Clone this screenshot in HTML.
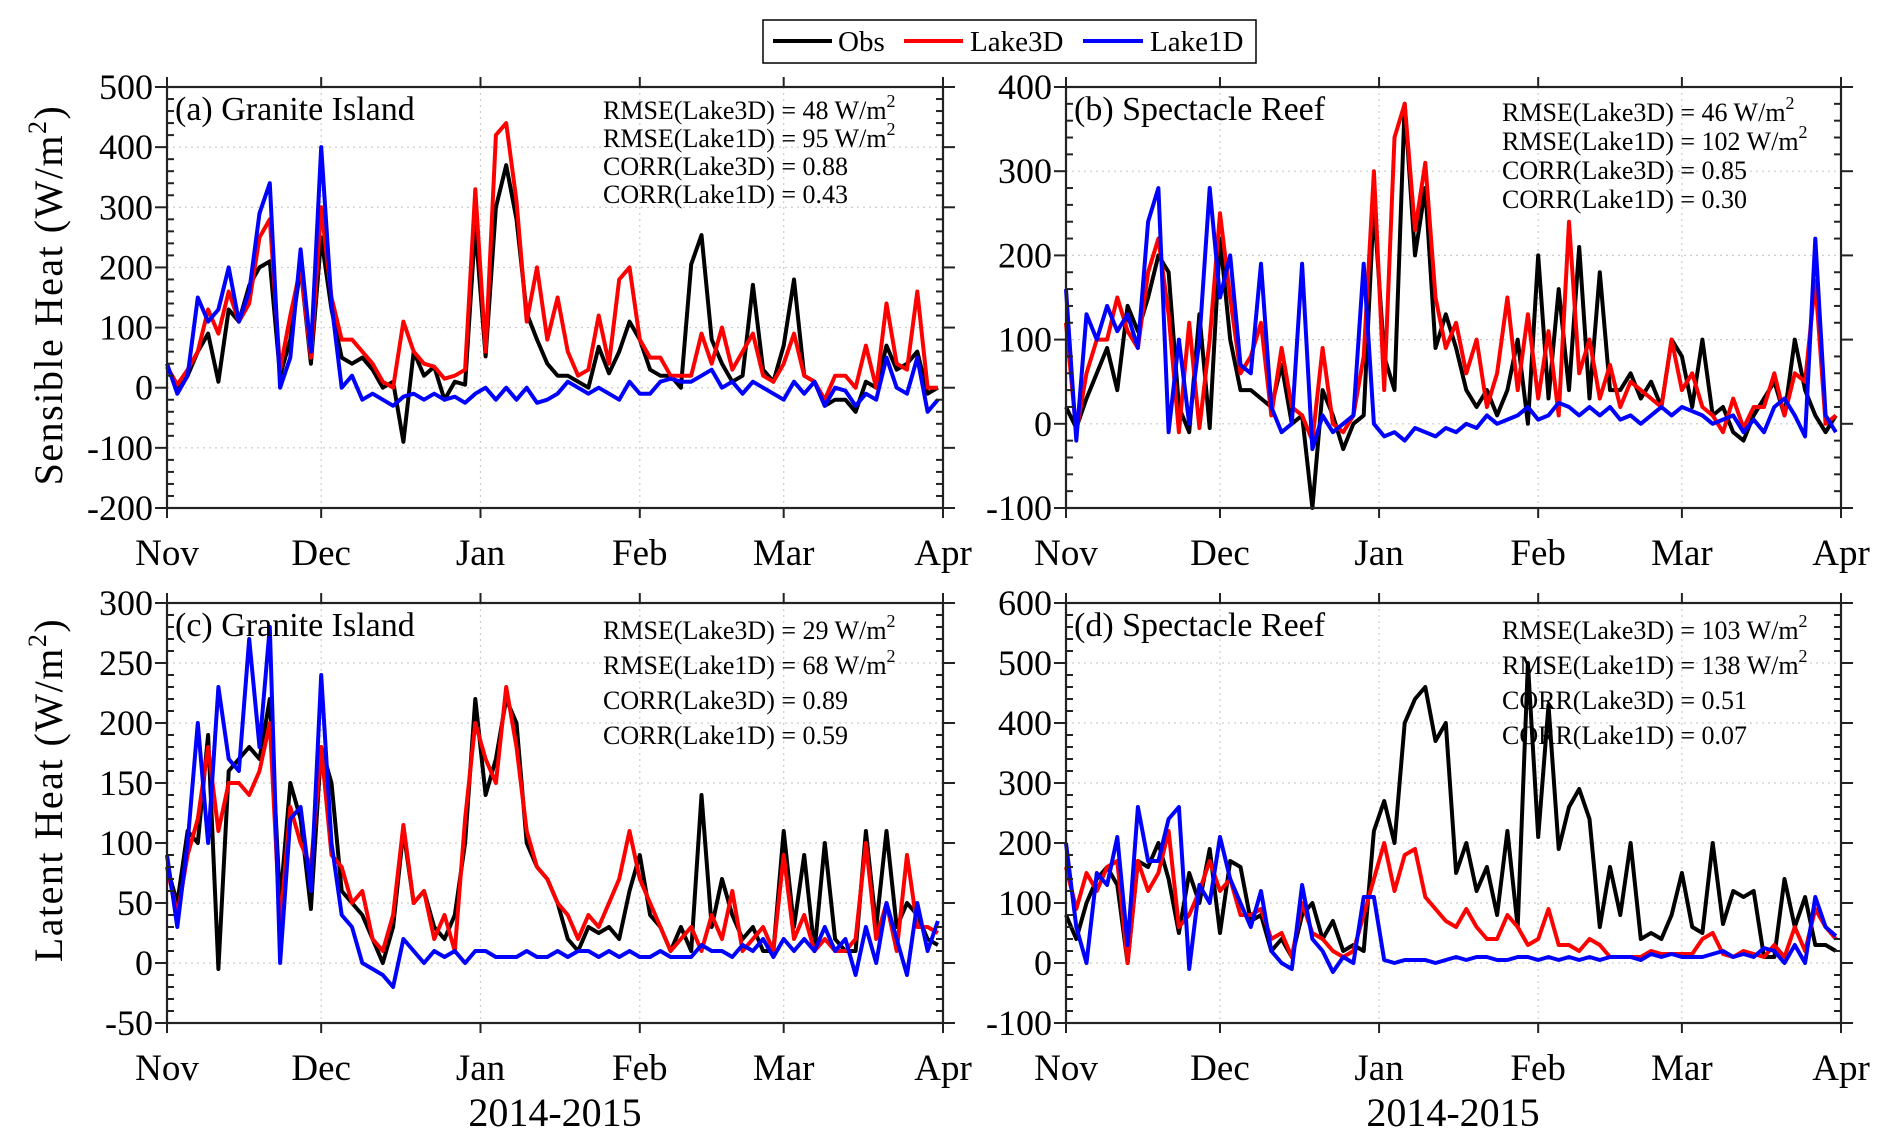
<!DOCTYPE html>
<html><head><meta charset="utf-8"><style>
html,body{margin:0;padding:0;background:#fff}
svg{display:block;font-family:"Liberation Serif",serif}
</style></head><body>
<svg id="fig" width="1892" height="1145" viewBox="0 0 1892 1145">
<g>
<rect x="763" y="20" width="493" height="43" fill="#fff" stroke="#000" stroke-width="1.5"/>
<g><line x1="773" y1="41" x2="832" y2="41" stroke="#000" stroke-width="4"/><text x="838" y="51" font-size="29">Obs</text></g>
<g><line x1="904" y1="41" x2="963" y2="41" stroke="#f00" stroke-width="4"/><text x="970" y="51" font-size="29">Lake3D</text></g>
<g><line x1="1083" y1="41" x2="1143" y2="41" stroke="#00f" stroke-width="4"/><text x="1150" y="51" font-size="29">Lake1D</text></g>
</g>
<text transform="translate(62,295) rotate(-90)" text-anchor="middle" font-size="40" letter-spacing="1.5">Sensible Heat (W/m<tspan font-size="26" dy="-16">2</tspan><tspan dy="16">)</tspan></text>
<text transform="translate(62,790) rotate(-90)" text-anchor="middle" font-size="40" letter-spacing="1.5">Latent Heat (W/m<tspan font-size="26" dy="-16">2</tspan><tspan dy="16">)</tspan></text>
<text x="555" y="1126" text-anchor="middle" font-size="40">2014-2015</text>
<text x="1453" y="1126" text-anchor="middle" font-size="40">2014-2015</text>
</svg>
<script>
const months = ["Nov","Dec","Jan","Feb","Mar","Apr"];
const monthDays = [0,30,61,92,120,151];
const dayStep = 2;
const aObs = [35,0,20,60,90,10,130,110,170,200,210,20,80,200,40,250,130,50,40,50,30,0,10,-90,60,20,35,-20,10,5,268,52,300,370,280,124,80,40,20,20,10,0,68,24,60,110,80,30,20,20,0,205,254,80,40,10,20,171,30,10,70,180,20,10,-30,-20,-20,-40,10,0,70,30,40,60,-10,0];
const aL3 = [35,5,30,60,130,90,160,110,140,250,280,30,120,200,50,300,150,80,80,60,40,10,0,110,60,40,35,15,20,30,330,60,420,440,310,110,200,80,150,60,20,30,120,40,180,200,80,50,50,20,20,20,90,40,100,30,60,90,20,10,40,90,20,10,-20,20,20,0,70,0,140,40,30,160,0,0];
const aL1 = [40,-10,20,150,110,130,200,110,160,290,340,0,50,230,60,400,140,0,20,-20,-10,-20,-30,-15,-10,-20,-10,-20,-15,-25,-10,0,-20,0,-20,0,-25,-20,-10,10,0,-10,0,-10,-20,10,-10,-10,10,15,10,10,20,30,0,10,-10,10,0,-10,-20,10,-10,10,-30,0,-5,-30,-10,-20,50,0,-10,50,-40,-20];
const bObs = [20,-5,30,60,90,40,140,110,150,200,180,20,-10,130,-5,220,100,40,40,30,20,70,0,10,-100,40,10,-30,0,10,260,80,40,380,200,280,90,130,90,40,20,40,10,40,100,0,200,30,160,40,210,30,180,40,40,60,30,50,20,100,80,20,100,10,20,-10,-20,10,30,50,10,100,40,10,-10,10];
const bL3 = [120,-10,60,100,100,150,110,90,180,220,130,-10,120,-5,100,250,150,60,80,120,10,90,20,10,-20,90,0,-10,10,80,300,40,340,380,230,310,150,90,120,60,100,20,60,150,40,130,30,110,10,240,60,100,30,70,20,50,40,30,20,100,40,60,20,10,-10,30,-5,20,20,60,10,60,50,170,0,10];
const bL1 = [160,-20,130,100,140,110,130,90,240,280,-10,100,0,100,280,150,200,70,60,190,20,-10,0,190,-30,10,-10,0,10,190,0,-15,-10,-20,-5,-10,-15,-5,-10,0,-5,10,0,5,10,20,5,10,25,20,10,20,10,20,5,10,0,10,20,10,20,15,10,0,5,10,-10,5,-10,20,30,10,-15,220,10,-10];
const cObs = [80,50,110,100,190,-5,160,170,180,170,220,50,150,120,45,180,150,60,50,40,20,0,30,110,50,60,30,20,40,100,220,140,170,220,200,100,80,70,50,20,10,30,25,30,20,60,90,40,30,10,30,10,140,30,70,40,20,30,10,10,110,30,90,10,100,20,10,10,110,30,110,30,50,40,20,15];
const cL3 = [80,40,90,120,180,110,150,150,140,160,200,30,130,100,80,180,90,80,50,60,20,10,40,115,50,60,20,40,10,120,200,170,150,230,180,110,80,70,50,40,20,40,30,50,70,110,70,50,30,10,20,30,10,40,20,60,10,20,30,10,90,20,40,10,20,10,10,20,100,20,50,10,90,30,30,25];
const cL1 = [90,30,100,200,100,230,170,160,270,180,280,0,120,130,60,240,100,40,30,0,-5,-10,-20,20,10,0,10,5,10,0,10,10,5,5,5,10,5,5,10,5,10,10,5,10,5,10,5,5,10,5,5,5,15,10,10,5,15,10,20,5,20,10,20,10,30,10,20,-10,30,0,50,20,-10,50,10,35];
const dObs = [80,40,100,140,160,130,0,170,160,200,140,50,150,100,190,50,170,160,70,80,20,40,10,80,100,40,70,20,30,20,220,270,200,400,440,460,370,400,150,200,120,160,80,220,60,500,210,430,190,260,290,240,60,160,80,200,40,50,40,80,150,60,50,200,65,120,110,120,10,10,140,60,110,30,30,20];
const dL3 = [160,90,150,120,160,170,0,170,120,150,220,60,80,120,170,120,140,80,80,90,40,50,10,100,50,40,20,10,20,80,140,200,120,180,190,110,90,70,60,90,60,40,40,80,60,30,40,90,30,30,20,40,30,10,10,10,10,20,15,15,15,15,40,50,15,10,20,15,10,30,10,60,20,90,60,40];
const dL1 = [200,60,0,150,130,210,30,260,170,170,240,260,-10,130,100,210,140,100,60,120,20,0,-10,130,40,20,-15,10,0,110,110,5,0,5,5,5,0,5,10,5,10,10,5,5,10,10,5,10,5,10,5,10,5,10,10,10,5,15,10,15,10,10,10,15,20,10,15,10,25,20,0,30,0,110,60,45];
const yTicksA = [-200,-100,0,100,200,300,400,500];
const yTicksB = [-100,0,100,200,300,400];
const yTicksC = [-50,0,50,100,150,200,250,300];
const yTicksD = [-100,0,100,200,300,400,500,600];

const NS="http://www.w3.org/2000/svg";
const svg=document.getElementById('fig');
function mk(tag,attrs,parent){const e=document.createElementNS(NS,tag);for(const k in attrs)e.setAttribute(k,attrs[k]);(parent||svg).appendChild(e);return e;}

const panels=[
 {id:'a',x:167,y:87,w:776,h:421,ymin:-200,ymax:500,minor:20,ticks:yTicksA,series:[aObs,aL3,aL1],title:'(a) Granite Island',stats:['RMSE(Lake3D) = 48 W/m','RMSE(Lake1D) = 95 W/m','CORR(Lake3D) = 0.88','CORR(Lake1D) = 0.43'],sy:110,sdy:28},
 {id:'b',x:1066,y:87,w:775,h:421,ymin:-100,ymax:400,minor:20,ticks:yTicksB,series:[bObs,bL3,bL1],title:'(b) Spectacle Reef',stats:['RMSE(Lake3D) = 46 W/m','RMSE(Lake1D) = 102 W/m','CORR(Lake3D) = 0.85','CORR(Lake1D) = 0.30'],sy:112,sdy:29},
 {id:'c',x:167,y:603,w:776,h:420,ymin:-50,ymax:300,minor:10,ticks:yTicksC,series:[cObs,cL3,cL1],title:'(c) Granite Island',stats:['RMSE(Lake3D) = 29 W/m','RMSE(Lake1D) = 68 W/m','CORR(Lake3D) = 0.89','CORR(Lake1D) = 0.59'],sy:630,sdy:35},
 {id:'d',x:1066,y:603,w:775,h:420,ymin:-100,ymax:600,minor:20,ticks:yTicksD,series:[dObs,dL3,dL1],title:'(d) Spectacle Reef',stats:['RMSE(Lake3D) = 103 W/m','RMSE(Lake1D) = 138 W/m','CORR(Lake3D) = 0.51','CORR(Lake1D) = 0.07'],sy:630,sdy:35}
];
const colors=['#000','#f00','#00f'];
const snames=['obs-line','lake3d-line','lake1d-line'];

panels.forEach(p=>{
 const g=mk('g',{});
 
 
 const X=d=>p.x+d/151*p.w;
 const Y=v=>p.y+p.h-(v-p.ymin)/(p.ymax-p.ymin)*p.h;
 p.ticks.forEach(t=>{if(t>p.ymin&&t<p.ymax){const l=mk('line',{x1:p.x,x2:p.x+p.w,y1:Y(t),y2:Y(t),stroke:'#ccc','stroke-width':1.2,'stroke-dasharray':'2,4'},g);
  
  }});
 monthDays.forEach(d=>{if(d>0&&d<151){const l=mk('line',{x1:X(d),x2:X(d),y1:p.y,y2:p.y+p.h,stroke:'#ccc','stroke-width':1.2,'stroke-dasharray':'2,4'},g);
  
  }});
 p.series.forEach((s,i)=>{
  const pts=s.map((v,k)=>X(k*dayStep).toFixed(1)+','+Y(v).toFixed(1)).join(' ');
  const pl=mk('polyline',{points:pts,fill:'none',stroke:colors[i],'stroke-width':4,'stroke-linejoin':'round'},g);
  
  
 });
 const fr=mk('rect',{x:p.x,y:p.y,width:p.w,height:p.h,fill:'none',stroke:'#222','stroke-width':2.2},g);
 
 
 for(let v=p.ymin;v<=p.ymax;v+=p.minor){
  const major=p.ticks.includes(v);const len=major?12:7;
  mk('line',{x1:p.x-(major?12:0),x2:p.x+(major?0:len),y1:Y(v),y2:Y(v),stroke:'#222','stroke-width':2},g);
  mk('line',{x1:p.x+p.w,x2:p.x+p.w-(major?0:len)+(major?12:0),y1:Y(v),y2:Y(v),stroke:'#222','stroke-width':2},g);
 }
 p.ticks.forEach(t=>{const tx=mk('text',{x:p.x-14,y:Y(t)+12,'text-anchor':'end','font-size':36},g);tx.textContent=t;
  
  });
 months.forEach((m,i)=>{const d=monthDays[i];
  mk('line',{x1:X(d),x2:X(d),y1:p.y-10,y2:p.y,stroke:'#222','stroke-width':2},g);
  mk('line',{x1:X(d),x2:X(d),y1:p.y+p.h,y2:p.y+p.h+10,stroke:'#222','stroke-width':2},g);
  const tx=mk('text',{x:X(d),y:p.y+p.h+57,'text-anchor':'middle','font-size':37},g);tx.textContent=m;
  
  });
 const tt=mk('text',{x:p.x+8,y:p.y+33,'font-size':34},g);tt.textContent=p.title;
 
 
 const sx=p.x+436;
 p.stats.forEach((s,i)=>{const tx=mk('text',{x:sx,y:p.sy+i*p.sdy+9,'font-size':26},g);tx.textContent=s;
  if(i<2){const sp=document.createElementNS(NS,'tspan');sp.setAttribute('dy','-12');sp.setAttribute('font-size','18');sp.textContent='2';tx.appendChild(sp);}
  
  });
});
</script>
</body></html>
